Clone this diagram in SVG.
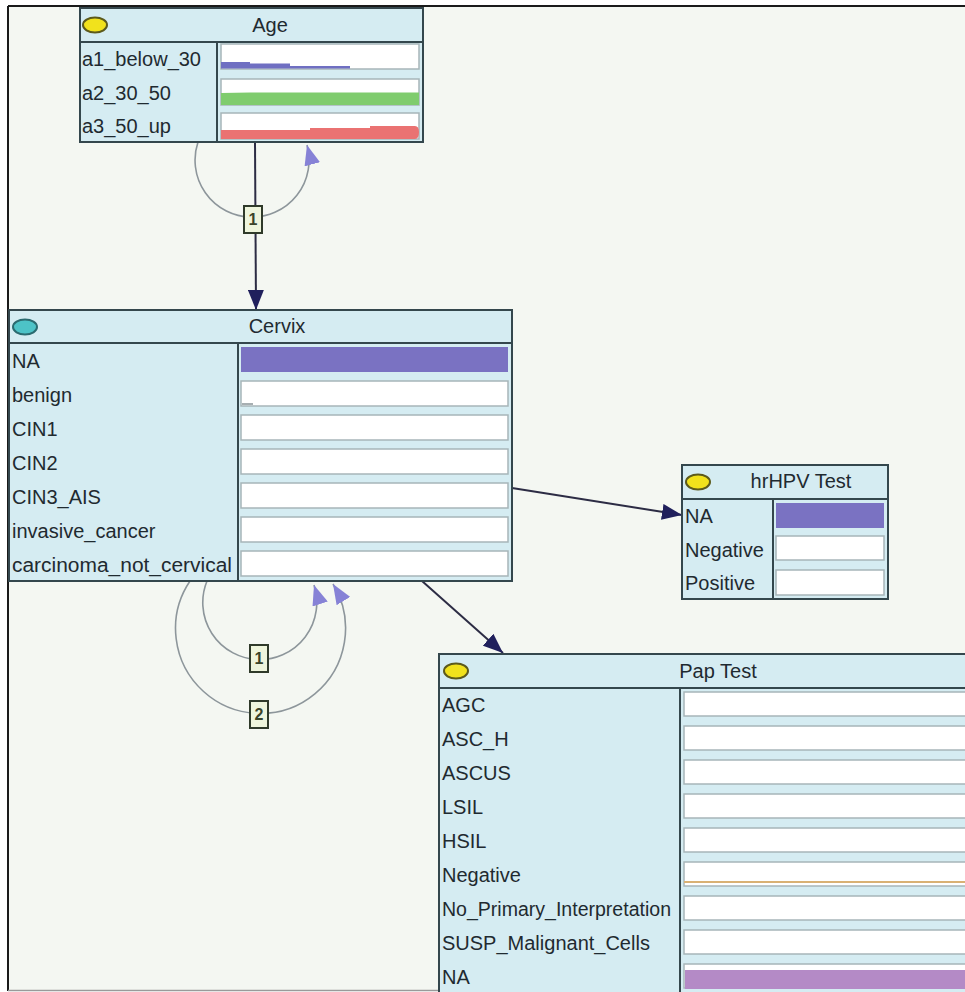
<svg xmlns="http://www.w3.org/2000/svg" width="965" height="992" viewBox="0 0 965 992">
<defs>
<style>
.node{fill:#d5ecf2;stroke:#34474d;stroke-width:2}
.div{stroke:#34474d;stroke-width:2}
.t{font-family:"Liberation Sans",Arial,sans-serif;font-size:20px;fill:#1f2a30}
.h{font-family:"Liberation Sans",Arial,sans-serif;font-size:20px;fill:#1f2a30;text-anchor:middle}
.cell{fill:#ffffff;stroke:#a7b5b9;stroke-width:1.5}
.yel{fill:#f1e21c;stroke:#5c5a1c;stroke-width:2}
.teal{fill:#4dc3c7;stroke:#2b6b70;stroke-width:2}
.dark{fill:none;stroke:#2c2c44;stroke-width:2}
.loop{fill:none;stroke:#8d969b;stroke-width:1.6}
.lbl{fill:#eef5dc;stroke:#2f3a2a;stroke-width:2}
.lt{font-family:"Liberation Sans",Arial,sans-serif;font-size:16px;font-weight:bold;fill:#3a4428;text-anchor:middle}
</style>
<marker id="ad" viewBox="0 0 20 16" refX="20" refY="8" markerWidth="20" markerHeight="16" markerUnits="userSpaceOnUse" orient="auto">
<path d="M0,0 L20,8 L0,16 Z" fill="#20205c"/>
</marker>
<marker id="al" viewBox="0 0 20 16" refX="20" refY="8" markerWidth="20" markerHeight="16" markerUnits="userSpaceOnUse" orient="auto">
<path d="M0,0 L20,8 L0,16 Z" fill="#8682d6"/>
</marker>
</defs>
<rect x="0" y="0" width="965" height="992" fill="#ffffff"/>
<rect x="8" y="6" width="957" height="985" fill="#f4f7f2"/>
<line x1="8" y1="6" x2="965" y2="6" stroke="#1a1a1a" stroke-width="2"/>
<line x1="8" y1="6" x2="8" y2="991" stroke="#1a1a1a" stroke-width="2"/>
<line x1="8" y1="990.5" x2="965" y2="990.5" stroke="#9a9a9a" stroke-width="1.5"/>

<g id="connectors">
<line class="dark" x1="255" y1="142" x2="256" y2="310" marker-end="url(#ad)"/>
<line class="dark" x1="512" y1="488" x2="682" y2="515" marker-end="url(#ad)"/>
<line class="dark" x1="422" y1="581" x2="503" y2="653" marker-end="url(#ad)"/>
<path class="loop" d="M198,142 A57,57 0 1,0 307,145" marker-end="url(#al)"/>
<path class="loop" d="M207,581 A57,57 0 1,0 314,585" marker-end="url(#al)"/>
<path class="loop" d="M190,581 A85,85 0 1,0 333,584" marker-end="url(#al)"/>
<g id="label-age-1"><rect class="lbl" x="244" y="206" width="18" height="27"/><text class="lt" x="253" y="225">1</text></g>
<g id="label-cervix-1"><rect class="lbl" x="250" y="645" width="18" height="27"/><text class="lt" x="259" y="664">1</text></g>
<g id="label-cervix-2"><rect class="lbl" x="250" y="701" width="18" height="27"/><text class="lt" x="259" y="720">2</text></g>
</g>

<g id="node-age">
<rect class="node" x="80" y="8" width="343" height="134"/>
<line class="div" x1="80" y1="42" x2="423" y2="42"/>
<line class="div" x1="217" y1="42" x2="217" y2="142"/>
<ellipse class="yel" cx="95" cy="25" rx="12" ry="7.5"/>
<text class="h" x="270" y="32">Age</text>
<text class="t" x="82" y="66">a1_below_30</text>
<text class="t" x="82" y="100">a2_30_50</text>
<text class="t" x="82" y="133">a3_50_up</text>
<rect class="cell" x="221" y="44" width="198" height="25"/>
<path d="M221,62 L250,62 L250,63.5 L290,63.5 L290,66 L350,66 L350,68.5 L221,68.5 Z" fill="#6f6fc2"/>
<rect class="cell" x="221" y="79" width="198" height="26"/>
<path d="M221,93 L250,92.5 L419,92.5 L419,105 L221,105 Z" fill="#7fcc6e"/>
<rect class="cell" x="221" y="113" width="198" height="26"/>
<path d="M221,130 L310,130 L310,128 L370,128 L370,126 L415,126 Q419,126 419,132 Q419,139 415,139 L221,139 Z" fill="#ea7272"/>
</g>

<g id="node-cervix">
<rect class="node" x="9" y="310" width="503" height="271"/>
<line class="div" x1="9" y1="343" x2="512" y2="343"/>
<line class="div" x1="238" y1="343" x2="238" y2="581"/>
<ellipse class="teal" cx="25" cy="327" rx="12" ry="7.5"/>
<text class="h" x="277" y="333">Cervix</text>
<text class="t" x="12" y="368">NA</text>
<text class="t" x="12" y="402">benign</text>
<text class="t" x="12" y="436">CIN1</text>
<text class="t" x="12" y="470">CIN2</text>
<text class="t" x="12" y="504">CIN3_AIS</text>
<text class="t" x="12" y="538">invasive_cancer</text>
<text class="t" x="12" y="572" textLength="220" lengthAdjust="spacingAndGlyphs">carcinoma_not_cervical</text>
<rect x="241" y="347" width="267" height="25" fill="#7a72c2"/>
<rect class="cell" x="241" y="381" width="267" height="25"/>
<line x1="242" y1="404" x2="253" y2="404" stroke="#8a9598" stroke-width="1.5"/>
<rect class="cell" x="241" y="415" width="267" height="25"/>
<rect class="cell" x="241" y="449" width="267" height="25"/>
<rect class="cell" x="241" y="483" width="267" height="25"/>
<rect class="cell" x="241" y="517" width="267" height="25"/>
<rect class="cell" x="241" y="551" width="267" height="25"/>
</g>

<g id="node-hrhpv">
<rect class="node" x="682" y="465" width="206" height="134"/>
<line class="div" x1="682" y1="499" x2="888" y2="499"/>
<line class="div" x1="773" y1="499" x2="773" y2="599"/>
<ellipse class="yel" cx="698" cy="482" rx="12" ry="7.5"/>
<text class="h" x="801" y="488">hrHPV Test</text>
<text class="t" x="685" y="523">NA</text>
<text class="t" x="685" y="557">Negative</text>
<text class="t" x="685" y="590">Positive</text>
<rect x="776" y="503" width="108" height="25" fill="#7a72c2"/>
<rect class="cell" x="776" y="536" width="108" height="24"/>
<rect class="cell" x="776" y="570" width="108" height="25"/>
</g>

<g id="node-pap">
<rect class="node" x="439" y="654" width="540" height="350"/>
<line class="div" x1="439" y1="688" x2="979" y2="688"/>
<line class="div" x1="680" y1="688" x2="680" y2="992"/>
<ellipse class="yel" cx="456" cy="671" rx="12" ry="7.5"/>
<text class="h" x="718" y="678">Pap Test</text>
<text class="t" x="442" y="712">AGC</text>
<text class="t" x="442" y="746">ASC_H</text>
<text class="t" x="442" y="780">ASCUS</text>
<text class="t" x="442" y="814">LSIL</text>
<text class="t" x="442" y="848">HSIL</text>
<text class="t" x="442" y="882">Negative</text>
<text class="t" x="442" y="916" textLength="229" lengthAdjust="spacingAndGlyphs">No_Primary_Interpretation</text>
<text class="t" x="442" y="950">SUSP_Malignant_Cells</text>
<text class="t" x="442" y="984">NA</text>
<rect class="cell" x="684" y="692" width="290" height="24"/>
<rect class="cell" x="684" y="726" width="290" height="24"/>
<rect class="cell" x="684" y="760" width="290" height="24"/>
<rect class="cell" x="684" y="794" width="290" height="24"/>
<rect class="cell" x="684" y="828" width="290" height="24"/>
<rect class="cell" x="684" y="862" width="290" height="24"/>
<line x1="684" y1="882" x2="974" y2="882" stroke="#d9b174" stroke-width="2"/>
<rect class="cell" x="684" y="896" width="290" height="24"/>
<rect class="cell" x="684" y="930" width="290" height="24"/>
<rect class="cell" x="684" y="964" width="290" height="24"/>
<rect x="685" y="970" width="290" height="19" fill="#b48ac6"/>
</g>
</svg>
